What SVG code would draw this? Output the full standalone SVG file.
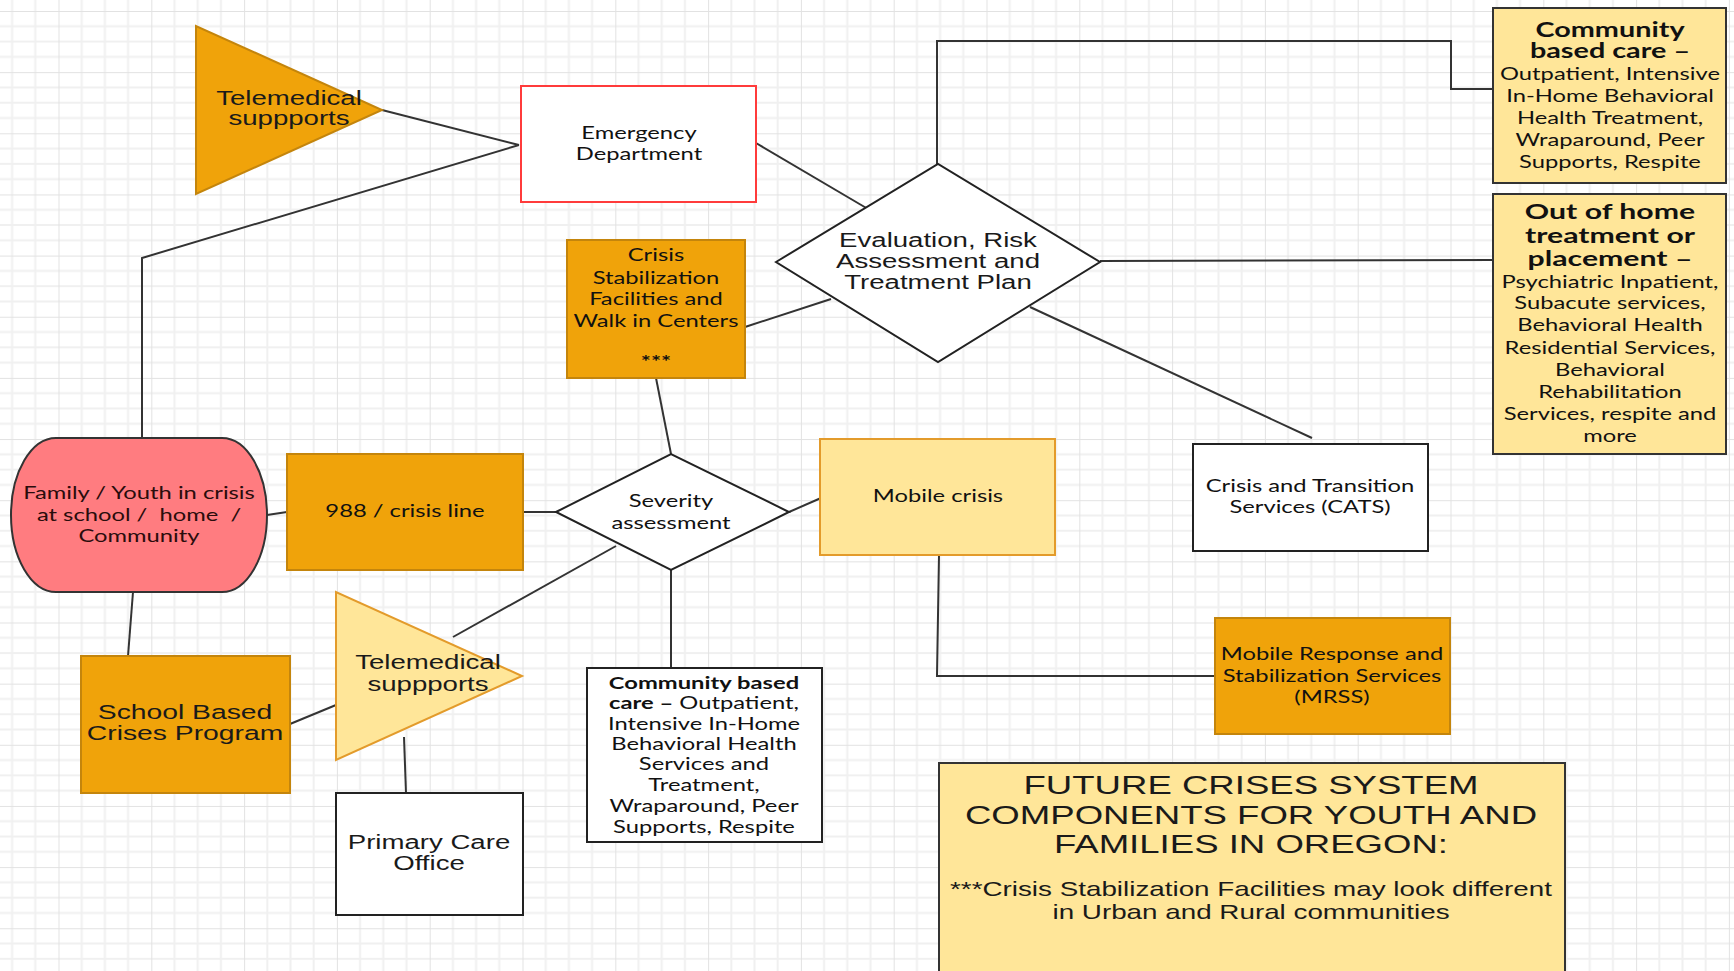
<svg xmlns="http://www.w3.org/2000/svg" width="1734" height="971" viewBox="0 0 1734 971">
<defs>
<pattern id="grid" x="58.5" y="11" width="92.8" height="61.15" patternUnits="userSpaceOnUse">
<g stroke="#f0f0f0" stroke-width="2">
<line x1="23.2" y1="0" x2="23.2" y2="61.15"/><line x1="46.4" y1="0" x2="46.4" y2="61.15"/><line x1="69.6" y1="0" x2="69.6" y2="61.15"/>
<line x1="0" y1="15.29" x2="92.8" y2="15.29"/><line x1="0" y1="30.58" x2="92.8" y2="30.58"/><line x1="0" y1="45.86" x2="92.8" y2="45.86"/>
</g>
<g stroke="#e2e2e2" stroke-width="2">
<line x1="0" y1="0" x2="0" y2="61.15"/><line x1="0" y1="0" x2="92.8" y2="0"/>
</g>
</pattern>
<style>
.ar{font-family:"Liberation Sans",Arial,sans-serif;fill:#1a1a1a;text-anchor:middle;}
.lt{font-family:Lato,"Open Sans",sans-serif;fill:#111;text-anchor:middle;font-size:16.5px;}
.b{font-weight:bold;}
.dk{fill:#F0A30A;stroke:#C4850C;stroke-width:2;}
.lg{fill:#FFE699;stroke:#E39B2B;stroke-width:2;}
.lgd{fill:#FFE699;stroke:#333;stroke-width:2;}
.wh{fill:#fff;stroke:#222;stroke-width:2;}
.cn{fill:none;stroke:#333;stroke-width:2;}
</style>
</defs>
<rect width="1734" height="971" fill="#fff"/>
<rect width="1734" height="971" fill="url(#grid)"/>

<g id="connectors">
<polyline class="cn" points="382,110 519,145"/>
<polyline class="cn" points="142,438 142,258 519,145"/>
<polyline class="cn" points="756,143 868,209"/>
<polyline class="cn" points="745,327 831,299"/>
<polyline class="cn" points="937,164 937,41 1451,41 1451,89 1493,89"/>
<polyline class="cn" points="1100,261 1493,260"/>
<polyline class="cn" points="1030,307 1312,438"/>
<polyline class="cn" points="656,378 671,454"/>
<polyline class="cn" points="267,515 287,512"/>
<polyline class="cn" points="523,512 556,512"/>
<polyline class="cn" points="789,512 821,498"/>
<polyline class="cn" points="616,546 453,637"/>
<polyline class="cn" points="671,570 671,668"/>
<polyline class="cn" points="133,592 128,656"/>
<polyline class="cn" points="290,724 336,705"/>
<polyline class="cn" points="404,737 406,793"/>
<polyline class="cn" points="939,555 937,676 1215,676"/>
</g>

<g id="telemedical-top">
<polygon class="dk" points="196,26 196,194 382,110"/>
<g transform="translate(289,0) scale(1.38,1)"><text class="ar" font-size="20" y="105.5"><tspan x="0">Telemedical</tspan><tspan x="0" y="125.5">suppports</tspan></text></g>
</g>

<g id="emergency-department">
<rect x="521" y="86" width="235" height="116" fill="#fff" stroke="#FF3B3B" stroke-width="2"/>
<g transform="translate(639,0) scale(1.44,1)"><text class="lt" y="139.5"><tspan x="0">Emergency</tspan><tspan x="0" y="160.5">Department</tspan></text></g>
</g>

<g id="crisis-stabilization">
<rect class="dk" x="567" y="240" width="178" height="138"/>
<g transform="translate(656,0) scale(1.44,1)"><text class="lt" y="261.5"><tspan x="0">Crisis</tspan><tspan x="0" y="284.5">Stabilization</tspan><tspan x="0" y="305.5">Facilities and</tspan><tspan x="0" y="327.5">Walk in Centers</tspan><tspan x="0" y="368" class="b">***</tspan></text></g>
</g>

<g id="evaluation">
<polygon class="wh" points="776,262 938,164 1100,262 938,362"/>
<g transform="translate(938,0) scale(1.38,1)"><text class="ar" font-size="20" y="247.5"><tspan x="0">Evaluation, Risk</tspan><tspan x="0" y="268.5">Assessment and</tspan><tspan x="0" y="289.5">Treatment Plan</tspan></text></g>
</g>

<g id="community-care-top">
<rect class="lgd" x="1493" y="8" width="233" height="175"/>
<g transform="translate(1610,0) scale(1.44,1)"><text class="lt" y="37"><tspan x="0" class="b" font-size="20">Community</tspan><tspan x="0" y="58" class="b" font-size="20">based care –</tspan><tspan x="0" y="80.5">Outpatient, Intensive</tspan><tspan x="0" y="102.5">In-Home Behavioral</tspan><tspan x="0" y="124.5">Health Treatment,</tspan><tspan x="0" y="146.5">Wraparound, Peer</tspan><tspan x="0" y="168.5">Supports, Respite</tspan></text></g>
</g>

<g id="out-of-home">
<rect class="lgd" x="1493" y="194" width="233" height="260"/>
<g transform="translate(1610,0) scale(1.44,1)"><text class="lt" y="219"><tspan x="0" class="b" font-size="21">Out of home</tspan><tspan x="0" y="243" class="b" font-size="21">treatment or</tspan><tspan x="0" y="266" class="b" font-size="21">placement –</tspan><tspan x="0" y="288.5">Psychiatric Inpatient,</tspan><tspan x="0" y="309.5">Subacute services,</tspan><tspan x="0" y="331.5">Behavioral Health</tspan><tspan x="0" y="354.5">Residential Services,</tspan><tspan x="0" y="376.5">Behavioral</tspan><tspan x="0" y="398.5">Rehabilitation</tspan><tspan x="0" y="420.5">Services, respite and</tspan><tspan x="0" y="442.5">more</tspan></text></g>
</g>

<g id="family-youth">
<rect x="11" y="438" width="256" height="154" rx="45" ry="77" fill="#FF7C80" stroke="#333" stroke-width="2"/>
<g transform="translate(139,0) scale(1.44,1)"><text class="lt" y="499.5" style="white-space:pre;fill:#2a0c0c"><tspan x="0">Family / Youth in crisis</tspan><tspan x="0" y="521.5">at school /  home  /</tspan><tspan x="0" y="542.5">Community</tspan></text></g>
</g>

<g id="crisis-line">
<rect class="dk" x="287" y="454" width="236" height="116"/>
<g transform="translate(405,0) scale(1.44,1)"><text class="lt" y="517.5" x="0">988 / crisis line</text></g>
</g>

<g id="severity">
<polygon class="wh" points="556,512 671,454 789,512 671,570"/>
<g transform="translate(671,0) scale(1.44,1)"><text class="lt" y="507.5"><tspan x="0">Severity</tspan><tspan x="0" y="529.5">assessment</tspan></text></g>
</g>

<g id="mobile-crisis">
<rect class="lg" x="820" y="439" width="235" height="116"/>
<g transform="translate(938,0) scale(1.44,1)"><text class="lt" y="502.5" x="0">Mobile crisis</text></g>
</g>

<g id="cats">
<rect class="wh" x="1193" y="444" width="235" height="107"/>
<g transform="translate(1310,0) scale(1.44,1)"><text class="lt" y="492.5"><tspan x="0">Crisis and Transition</tspan><tspan x="0" y="513.5">Services (CATS)</tspan></text></g>
</g>

<g id="mrss">
<rect class="dk" x="1215" y="618" width="235" height="116"/>
<g transform="translate(1332,0) scale(1.44,1)"><text class="lt" y="660.5"><tspan x="0">Mobile Response and</tspan><tspan x="0" y="682">Stabilization Services</tspan><tspan x="0" y="703">(MRSS)</tspan></text></g>
</g>

<g id="telemedical-bottom">
<polygon class="lg" points="336,592 336,760 522,676"/>
<g transform="translate(428,0) scale(1.38,1)"><text class="ar" font-size="20" y="669.5"><tspan x="0">Telemedical</tspan><tspan x="0" y="691.5">suppports</tspan></text></g>
</g>

<g id="school-program">
<rect class="dk" x="81" y="656" width="209" height="137"/>
<g transform="translate(185,0) scale(1.38,1)"><text class="ar" font-size="20.5" y="719.5"><tspan x="0">School Based</tspan><tspan x="0" y="740.5">Crises Program</tspan></text></g>
</g>

<g id="primary-care">
<rect class="wh" x="336" y="793" width="187" height="122"/>
<g transform="translate(429,0) scale(1.38,1)"><text class="ar" font-size="20" y="849.5"><tspan x="0">Primary Care</tspan><tspan x="0" y="870.5">Office</tspan></text></g>
</g>

<g id="community-care-bottom">
<rect class="wh" x="587" y="668" width="235" height="174"/>
<g transform="translate(704,0) scale(1.44,1)"><text class="lt" y="689"><tspan x="0" class="b">Community based</tspan><tspan x="0" y="709.5"><tspan class="b">care –</tspan> Outpatient,</tspan><tspan x="0" y="730.5">Intensive In-Home</tspan><tspan x="0" y="750.5">Behavioral Health</tspan><tspan x="0" y="770.5">Services and</tspan><tspan x="0" y="791.5">Treatment,</tspan><tspan x="0" y="812">Wraparound, Peer</tspan><tspan x="0" y="833">Supports, Respite</tspan></text></g>
</g>

<g id="title-box">
<rect class="lgd" x="939" y="763" width="626" height="230"/>
<g transform="translate(1251,0) scale(1.38,1)"><text class="ar" font-size="26.5" y="794.5"><tspan x="0">FUTURE CRISES SYSTEM</tspan><tspan x="0" y="824.5">COMPONENTS FOR YOUTH AND</tspan><tspan x="0" y="853.5">FAMILIES IN OREGON:</tspan></text></g>
<g transform="translate(1251,0) scale(1.325,1)"><text class="ar" font-size="21" y="896"><tspan x="0">***Crisis Stabilization Facilities may look different</tspan><tspan x="0" y="919">in Urban and Rural communities</tspan></text></g>
</g>
</svg>
